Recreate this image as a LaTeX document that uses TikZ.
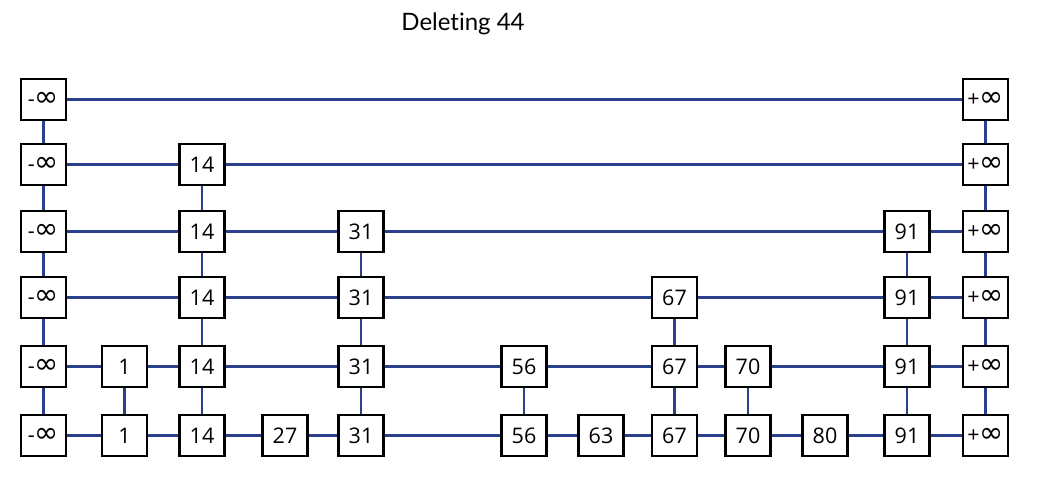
\documentclass[tikz,border=0pt]{standalone}
\usepackage{fontspec}
\setmainfont{Lato}[Ligatures=NoCommon]
\newfontfamily\boxfont{Open Sans}
\newfontfamily\symfont{DejaVu Sans}
\usepackage{tikz}
\usepackage{xcolor}
\definecolor{linkblue}{HTML}{2B3F8F}
\newcommand{\infsym}{{\symfont\fontsize{29}{29}\selectfont ∞}}
\tikzstyle{keybox} = [draw=black, fill=white, line width=2.8pt,
    rectangle, minimum width=45pt, minimum height=41pt, inner sep=0pt,
    font=\boxfont\fontsize{21.5}{22}\selectfont]
\tikzstyle{link} = [draw=linkblue, line width=2.6pt]

\begin{document}
\begin{tikzpicture}[x=1pt,y=-1pt]
\useasboundingbox (0,0) rectangle (1049,479);
\node (title) at (463,24) {\fontsize{24}{28}\selectfont Deleting 44};

% the levels, top to bottom
\foreach \r/\y/\keys in {
    1/99.5/{m/43.5/-\infsym, p/985.5/+\infsym},
    2/164.5/{m/43.5/-\infsym, 14/202/14, p/985.5/+\infsym},
    3/231.5/{m/43.5/-\infsym, 14/202/14, 31/361/31, 91/907/91, p/985.5/+\infsym},
    4/297.5/{m/43.5/-\infsym, 14/202/14, 31/361/31, 67/674.5/67, 91/907/91, p/985.5/+\infsym},
    5/366.5/{m/43.5/-\infsym, 1/124.5/1, 14/202/14, 31/361/31, 56/524/56, 67/674.5/67,
             70/748/70, 91/907/91, p/985.5/+\infsym},
    6/435.5/{m/43.5/-\infsym, 1/124.5/1, 14/202/14, 27/285/27, 31/361/31, 56/524/56,
             63/601/63, 67/674.5/67, 70/748/70, 80/825/80, 91/907/91, p/985.5/+\infsym}}
    \foreach \k/\x/\lab in \keys
        \node[keybox] (r\r-\k) at (\x,\y) {\lab};

% links inside each level
\draw[link] (r1-m) -- (r1-p);
\draw[link] (r2-m) -- (r2-14) -- (r2-p);
\draw[link] (r3-m) -- (r3-14) -- (r3-31) -- (r3-91) -- (r3-p);
\draw[link] (r4-m) -- (r4-14) -- (r4-31) -- (r4-67) -- (r4-91) -- (r4-p);
\draw[link] (r5-m) -- (r5-1) -- (r5-14) -- (r5-31) -- (r5-56) -- (r5-67)
    -- (r5-70) -- (r5-91) -- (r5-p);
\draw[link] (r6-m) -- (r6-1) -- (r6-14) -- (r6-27) -- (r6-31) -- (r6-56)
    -- (r6-63) -- (r6-67) -- (r6-70) -- (r6-80) -- (r6-91) -- (r6-p);

% links between levels
\draw[link] (r1-m) -- (r2-m) -- (r3-m) -- (r4-m) -- (r5-m) -- (r6-m);
\draw[link] (r1-p) -- (r2-p) -- (r3-p) -- (r4-p) -- (r5-p) -- (r6-p);
\draw[link] (r2-14) -- (r3-14) -- (r4-14) -- (r5-14) -- (r6-14);
\draw[link] (r3-31) -- (r4-31) -- (r5-31) -- (r6-31);
\draw[link] (r3-91) -- (r4-91) -- (r5-91) -- (r6-91);
\draw[link] (r4-67) -- (r5-67) -- (r6-67);
\draw[link] (r5-1) -- (r6-1);
\draw[link] (r5-56) -- (r6-56);
\draw[link] (r5-70) -- (r6-70);
\end{tikzpicture}
\end{document}
